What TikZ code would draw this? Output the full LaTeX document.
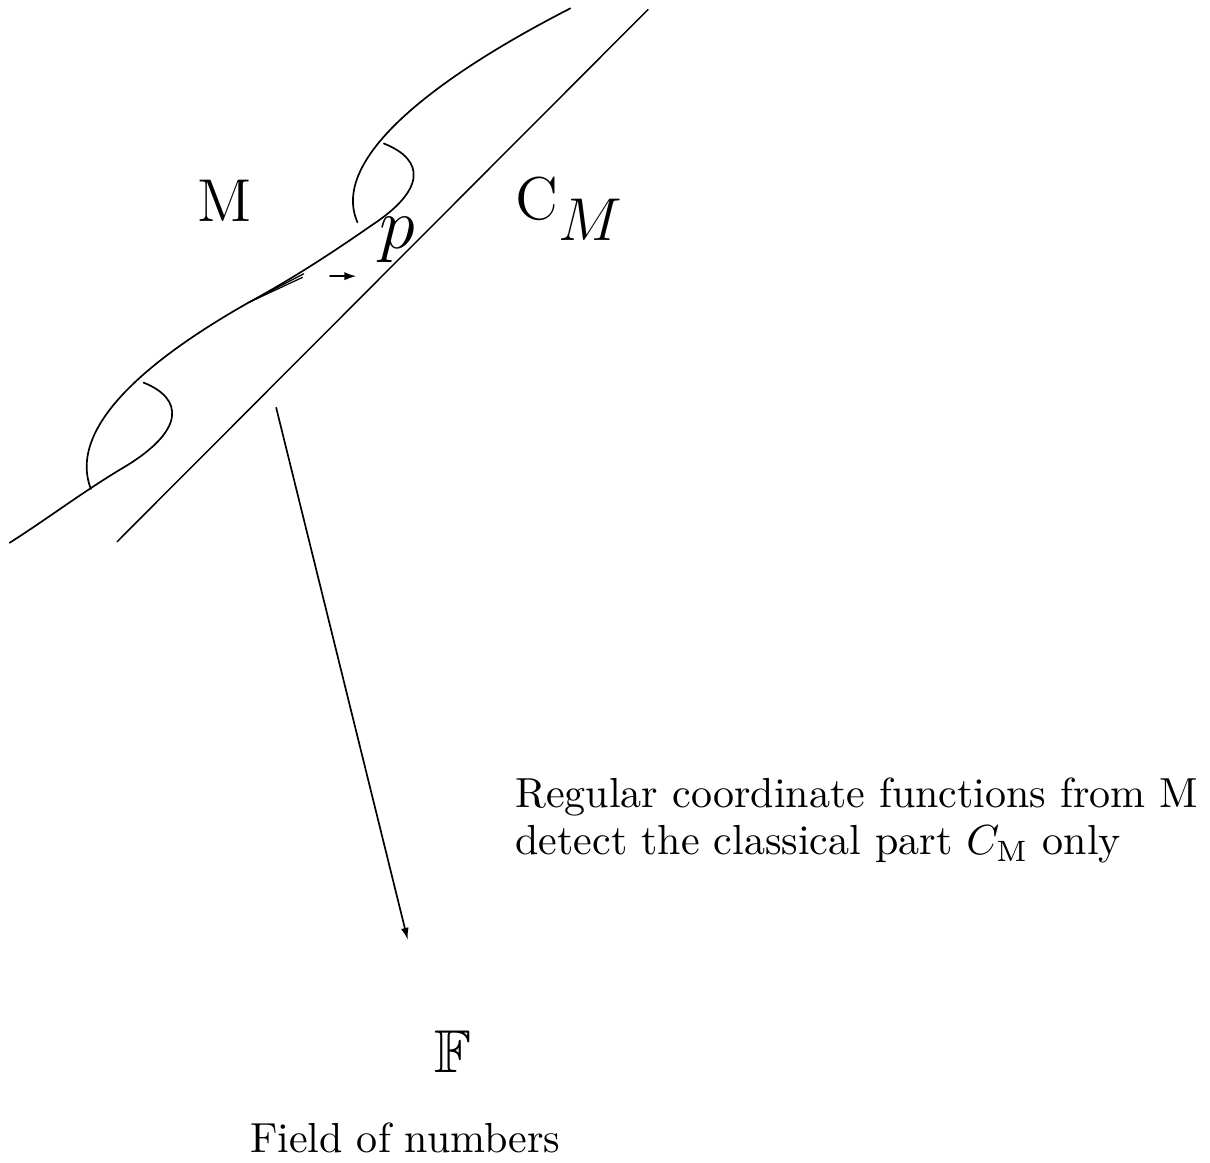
\documentclass[tikz,border=0pt]{standalone}
\usepackage{amsmath,amssymb}
\usetikzlibrary{arrows.meta}
\definecolor{BandInk}{gray}{0.0}
\tikzset{
    band/diagram/.style={
        font=\normalsize,
        draw=BandInk,
        text=BandInk,
        line width=0.4pt,
        line cap=round,
        line join=round,
        every node/.style={inner sep=0pt, outer sep=0pt}
    },
    band/edge/.style={draw=BandInk, line width=0.4pt},
    band/classical/.style={draw=BandInk, line width=0.35pt},
    band/tangent/.style={draw=BandInk, line width=0.3pt},
    band/vector/.style={
        draw=BandInk, line width=0.4pt,
        -{Latex[length=1mm, width=0.7mm]}
    },
    band/map/.style={
        draw=BandInk, line width=0.4pt,
        -{Latex[length=1mm, width=0.65mm]}
    },
    band/big/.style={font=\Large},
    band/caption/.style={anchor=base west}
}

\begin{document}
\begin{tikzpicture}[band/diagram]
    \useasboundingbox (0,0) rectangle (10.12,9.72);
    % classical part, a straight line through p
    \draw[band/classical] (5.42,9.64) -- (0.98,5.19);
    % upper end of M
    \draw[band/edge]
        (4.77,9.65) .. controls (3.60,9.05) and (2.76,8.38) .. (2.99,7.86);
    % top rim, down through the neck to the lower end
    \draw[band/edge]
        (3.21,8.52) .. controls (3.56,8.38) and (3.56,8.13) .. (3.10,7.83)
        .. controls (2.77,7.60) and (2.43,7.38) .. (2.08,7.19)
        .. controls (1.25,6.72) and (0.56,6.15) .. (0.76,5.63);
    % bottom rim
    \draw[band/edge]
        (1.20,6.52) .. controls (1.53,6.39) and (1.57,6.12) .. (1.00,5.79)
        .. controls (0.67,5.59) and (0.38,5.37) .. (0.08,5.18);
    % tangent at a point of M
    \coordinate (Touch) at (2.08,7.19);
    \coordinate (TouchA) at (2.54,7.43);
    \coordinate (TouchB) at (2.53,7.40);
    \draw[band/tangent] (Touch) -- (TouchA);
    \draw[band/tangent] (Touch) -- (TouchB);
    \coordinate (VecFrom) at (2.76,7.41);
    \coordinate (VecTo) at (2.98,7.41);
    \draw[band/vector] (VecFrom) -- (VecTo);
    \node[band/big, anchor=base] (Manifold) at (1.88,7.87) {M};
    \node[font=\LARGE] (Point) at (3.32,7.71) {$p$};
    \node[band/big, anchor=base west] (Classical) at (4.31,7.88)
        {C$_{\mbox{\Large$M$}}$};
    \node[band/caption] (Detect) at (4.31,2.97)
        {Regular coordinate functions from M};
    \node[band/caption] (DetectOnly) at (4.31,2.57)
        {detect the classical part $C_{\mathrm{M}}$ only};
    % map to the numbers
    \coordinate (MapFrom) at (2.31,6.31);
    \coordinate (MapTo) at (3.41,1.86);
    \draw[band/map] (MapFrom) -- (MapTo);
    \node[band/big, anchor=base] (Field) at (3.79,0.75) {$\mathbb{F}$};
    \node[anchor=base] (FieldName) at (3.39,0.08) {Field of numbers};
\end{tikzpicture}
\end{document}
